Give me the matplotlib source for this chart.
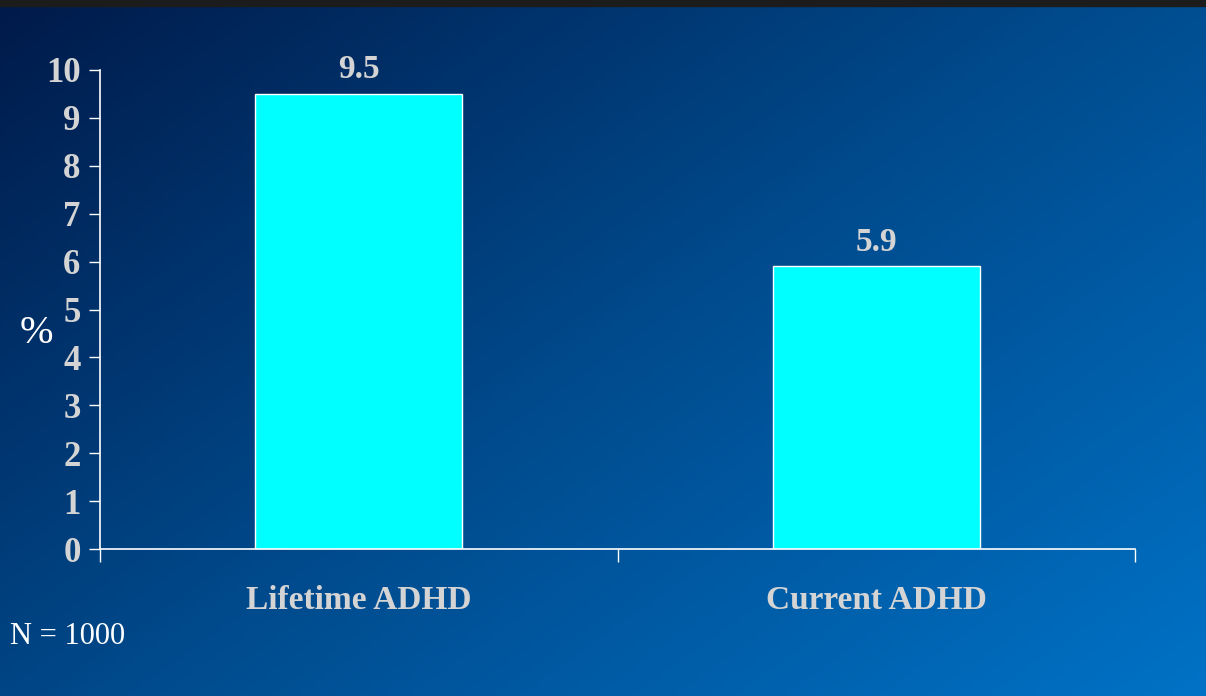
import numpy as np
import matplotlib
matplotlib.use("Agg")
import matplotlib.pyplot as plt
from matplotlib.colors import LinearSegmentedColormap

categories = ["Lifetime ADHD", "Current ADHD"]
values = [9.5, 5.9]
yticks = list(range(0, 11))
note = "N = 1000"

serif = ["Liberation Serif", "DejaVu Serif"]
label_grey = "#d4d4d4"

fig = plt.figure(figsize=(12.06, 6.96), dpi=100)

# background gradient, dark navy top-left to brighter blue bottom-right
bg = fig.add_axes([0, 0, 1, 1], zorder=-10)
yy, xx = np.mgrid[0:1:200j, 0:1:350j]
grad = 0.55 * xx + 0.45 * yy
cmap = LinearSegmentedColormap.from_list("bg", ["#001a4a", "#004a8c", "#0072c6"])
bg.imshow(grad, cmap=cmap, aspect="auto", extent=[0, 1, 0, 1], origin="upper")
bg.axhspan(1 - 6 / 696, 1, color="#1c1c1c")
bg.set_xlim(0, 1)
bg.set_ylim(0, 1)
bg.axis("off")

ax = fig.add_axes([100 / 1206, 1 - 549 / 696, 1035 / 1206, 479 / 696])
ax.patch.set_alpha(0)
x = np.arange(len(categories))
ax.bar(x, values, width=0.4, color="#00ffff", edgecolor="white", linewidth=1)
for xi, v in zip(x, values):
    ax.text(xi, v + 0.18, f"{v}", ha="center", va="bottom", color=label_grey,
            fontsize=24, fontweight="bold", family=serif)

ax.set_xlim(-0.5, 1.5)
ax.set_ylim(0, 10)
ax.set_yticks(yticks)
ax.set_yticklabels([str(t) for t in yticks], color=label_grey, fontsize=25,
                   fontweight="bold", family=serif)
ax.set_xticks(x)
ax.set_xticklabels(categories, color=label_grey, fontsize=24, fontweight="bold",
                   family=serif)
ax.set_xticks([-0.5, 0.5, 1.5], minor=True)
ax.tick_params(axis="x", which="major", length=0, pad=26)
ax.tick_params(axis="x", which="minor", length=9, color="white", width=1)
ax.tick_params(axis="y", length=8, color="white", width=1, pad=6)
for s in ["top", "right"]:
    ax.spines[s].set_visible(False)
for s in ["left", "bottom"]:
    ax.spines[s].set_color("white")
    ax.spines[s].set_linewidth(1.2)

fig.text(20 / 1206, 1 - 334 / 696, "%", color="white", fontsize=29,
         family=serif, va="center", ha="left")
fig.text(10 / 1206, 1 - 637 / 696, note, color="white", fontsize=22,
         family=serif, va="center", ha="left")

fig.savefig("out.png", dpi=100)
